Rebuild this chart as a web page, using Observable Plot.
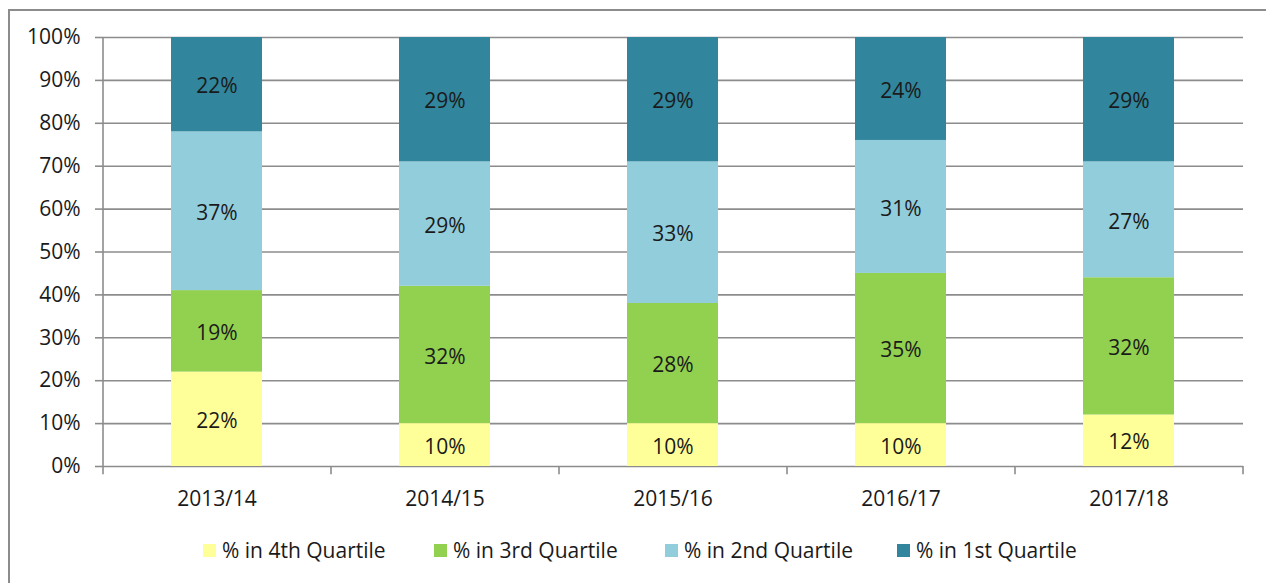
<!DOCTYPE html>
<html>
<head>
<meta charset="utf-8">
<script src="https://cdn.jsdelivr.net/npm/d3@7"></script>
<script src="https://cdn.jsdelivr.net/npm/@observablehq/plot@0.6"></script>
<style>
  html, body { margin: 0; padding: 0; background: #fff; width: 1266px; height: 583px; overflow: hidden; }
  #frame { position: absolute; left: 8px; top: 9px; width: 1300px; height: 640px; border: 2px solid #8c8c8c; box-sizing: border-box; }
  #chart { position: absolute; left: 0; top: 0; }
  #legend { position: absolute; left: 0; top: 0; width: 1266px; height: 583px;
    font-family: "Open Sans", sans-serif; font-size: 21px; color: #1a1a1a; }
  .item { position: absolute; top: 536px; display: flex; align-items: center; white-space: nowrap; }
  .sw { width: 13px; height: 13px; margin-right: 6px; }
</style>
</head>
<body>
<div id="frame"></div>
<div id="chart"></div>
<div id="legend"></div>
<script>
const years = ["2013/14", "2014/15", "2015/16", "2016/17", "2017/18"];
const quartiles = ["% in 4th Quartile", "% in 3rd Quartile", "% in 2nd Quartile", "% in 1st Quartile"];
const colors = ["#FFFF99", "#92D050", "#92CDDC", "#31859C"];
const q4 = [22, 10, 10, 10, 12];
const q3 = [19, 32, 28, 35, 32];
const q2 = [37, 29, 33, 31, 27];
const q1 = [22, 29, 29, 24, 29];
const yTicks = [0, 10, 20, 30, 40, 50, 60, 70, 80, 90, 100];

const series = [q4, q3, q2, q1];
const data = [];
years.forEach((yr, i) => {
  quartiles.forEach((q, j) => data.push({year: yr, quartile: q, value: series[j][i]}));
});

const font = '"Open Sans", sans-serif';
const grid = "#8c8c8c";
const ink = "#1a1a1a";

const plot = Plot.plot({
  width: 1266,
  height: 520,
  marginLeft: 103,
  marginRight: 23,
  marginTop: 37,
  marginBottom: 54,
  style: {fontFamily: font, fontSize: "21px", color: ink, background: "transparent"},
  x: {domain: years, paddingInner: 0.6, paddingOuter: 0.3, align: 0.5, axis: null},
  y: {domain: [0, 100], axis: null},
  color: {domain: quartiles, range: colors},
  marks: [
    Plot.ruleY(yTicks, {stroke: grid, strokeWidth: 1.6}),
    Plot.axisY({ticks: yTicks, tickFormat: d => d + "%", tickSize: 8, tickPadding: 15, stroke: grid, strokeWidth: 1.6, fill: ink, fontSize: 21, label: null}),
    Plot.ruleX([years[0]], {x: d => d, dx: -114, y1: 0, y2: 100, stroke: grid, strokeWidth: 1.6}),
    Plot.ruleX(years, {x: d => d, dx: -114, y1: -1.9, y2: 0, stroke: grid, strokeWidth: 1.6}),
    Plot.ruleX([years[years.length - 1]], {x: d => d, dx: 114, y1: -1.9, y2: 0, stroke: grid, strokeWidth: 1.6}),
    Plot.barY(data, Plot.stackY({x: "year", y: "value", fill: "quartile", order: quartiles})),
    Plot.text(data, Plot.stackY({x: "year", y: "value", z: "quartile", order: quartiles, text: d => d.value + "%", fill: ink, fontSize: 21, dy: 2})),
    Plot.axisX({tickSize: 0, tickPadding: 25, fill: ink, fontSize: 21, label: null})
  ]
});
document.getElementById("chart").appendChild(plot);

const legendLeft = [203, 434, 665, 897];
const legend = document.getElementById("legend");
quartiles.forEach((q, i) => {
  const it = document.createElement("div");
  it.className = "item";
  it.style.left = legendLeft[i] + "px";
  const sw = document.createElement("div");
  sw.className = "sw";
  sw.style.background = colors[i];
  const t = document.createElement("span");
  t.textContent = q;
  it.appendChild(sw); it.appendChild(t);
  legend.appendChild(it);
});
</script>
</body>
</html>
